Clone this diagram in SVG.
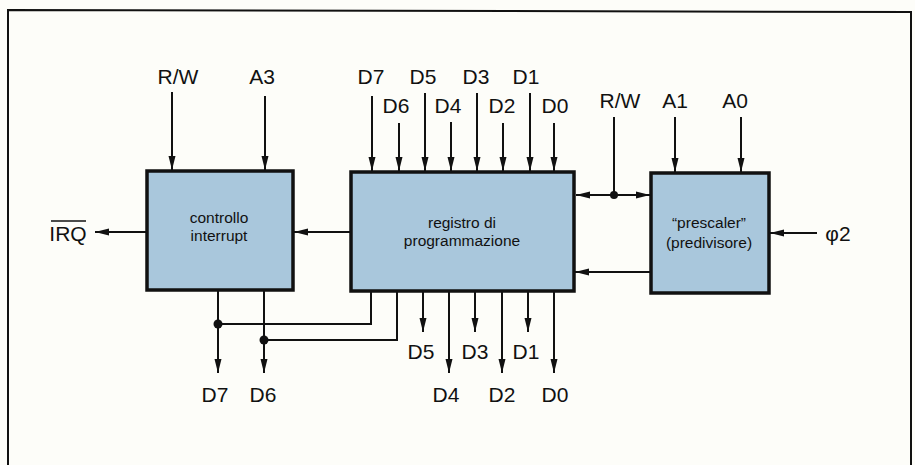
<svg xmlns="http://www.w3.org/2000/svg" width="915" height="465" viewBox="0 0 915 465">
<style>
.box{fill:#a9c7dc;stroke:#111;stroke-width:3.5}
.ln{stroke:#111;stroke-width:2;fill:none}
.ar{marker-end:url(#ah)}
.lbl{font-family:"Liberation Sans",Arial,sans-serif;font-size:21px;fill:#111;text-anchor:middle}
.txt{font-family:"Liberation Sans",Arial,sans-serif;font-size:15.5px;fill:#111;text-anchor:middle}
</style>
<defs>
<marker id="ah" markerUnits="userSpaceOnUse" markerWidth="15" markerHeight="8" refX="14" refY="4" orient="auto-start-reverse">
<path d="M0,0.5 L14,4 L0,7.5 z" fill="#111"/>
</marker>
</defs>
<rect x="0" y="0" width="915" height="465" fill="#fdfdf9"/>
<path d="M8,470 L8,10 L911,12 L911,470" class="ln" stroke-width="2.5"/>

<g id="controllo">
<rect class="box" x="147" y="171" width="146" height="119"/>
<text class="txt" x="219" y="223">controllo</text>
<text class="txt" x="219" y="241">interrupt</text>
</g>
<g id="registro">
<rect class="box" x="351" y="172" width="223" height="119"/>
<text class="txt" x="462" y="228">registro di</text>
<text class="txt" x="462" y="246">programmazione</text>
</g>
<g id="prescaler">
<rect class="box" x="651" y="173" width="118" height="120"/>
<text class="txt" x="709" y="228">“prescaler”</text>
<text class="txt" x="709" y="248">(predivisore)</text>
</g>

<g id="connectors">
<line class="ln ar" x1="172" y1="92" x2="172" y2="170"/>
<line class="ln ar" x1="265" y1="96" x2="265" y2="170"/>
<line class="ln ar" x1="372" y1="96" x2="372" y2="171"/>
<line class="ln ar" x1="399" y1="123" x2="399" y2="171"/>
<line class="ln ar" x1="425" y1="93" x2="425" y2="171"/>
<line class="ln ar" x1="451" y1="122" x2="451" y2="171"/>
<line class="ln ar" x1="477" y1="93" x2="477" y2="171"/>
<line class="ln ar" x1="503" y1="123" x2="503" y2="171"/>
<line class="ln ar" x1="530" y1="93" x2="530" y2="171"/>
<line class="ln ar" x1="554" y1="123" x2="554" y2="171"/>
<line class="ln" x1="614" y1="117" x2="614" y2="195"/>
<line class="ln ar" x1="675" y1="117" x2="675" y2="172"/>
<line class="ln ar" x1="741" y1="117" x2="741" y2="172"/>
<line class="ln ar" x1="576" y1="195" x2="650" y2="195" style="marker-start:url(#ah)"/>
<circle cx="614" cy="195" r="4" fill="#111"/>
<line class="ln ar" x1="651" y1="272" x2="575" y2="272"/>
<line class="ln ar" x1="817" y1="233" x2="770" y2="233"/>
<line class="ln ar" x1="351" y1="232" x2="294" y2="232"/>
<line class="ln ar" x1="147" y1="232" x2="95" y2="232"/>
<line class="ln ar" x1="218" y1="291" x2="218" y2="373"/>
<line class="ln ar" x1="264" y1="291" x2="264" y2="373"/>
<polyline class="ln" points="371,292 371,324 218,324"/>
<polyline class="ln" points="397,292 397,340 264,340"/>
<circle cx="218" cy="324" r="4.5" fill="#111"/>
<circle cx="264" cy="340" r="4.5" fill="#111"/>
<line class="ln ar" x1="423" y1="292" x2="423" y2="332"/>
<line class="ln ar" x1="449" y1="292" x2="449" y2="373"/>
<line class="ln ar" x1="475" y1="292" x2="475" y2="332"/>
<line class="ln ar" x1="502" y1="292" x2="502" y2="373"/>
<line class="ln ar" x1="528" y1="292" x2="528" y2="332"/>
<line class="ln ar" x1="554" y1="292" x2="554" y2="373"/>
</g>

<g id="labels">
<text class="lbl" x="178" y="84">R/W</text>
<text class="lbl" x="262" y="84">A3</text>
<text class="lbl" x="371" y="84">D7</text>
<text class="lbl" x="396" y="113">D6</text>
<text class="lbl" x="423" y="84">D5</text>
<text class="lbl" x="448" y="113">D4</text>
<text class="lbl" x="476" y="84">D3</text>
<text class="lbl" x="502" y="113">D2</text>
<text class="lbl" x="526" y="84">D1</text>
<text class="lbl" x="555" y="113">D0</text>
<text class="lbl" x="620" y="108">R/W</text>
<text class="lbl" x="675" y="108">A1</text>
<text class="lbl" x="735" y="108">A0</text>
<text class="lbl" x="838" y="241">φ2</text>
<text class="lbl" x="68" y="241">IRQ</text>
<line x1="51" y1="221" x2="86" y2="221" stroke="#111" stroke-width="1.5"/>
<text class="lbl" x="215" y="402">D7</text>
<text class="lbl" x="263" y="402">D6</text>
<text class="lbl" x="421" y="359">D5</text>
<text class="lbl" x="446" y="402">D4</text>
<text class="lbl" x="475" y="359">D3</text>
<text class="lbl" x="502" y="402">D2</text>
<text class="lbl" x="526" y="359">D1</text>
<text class="lbl" x="555" y="402">D0</text>
</g>
</svg>
